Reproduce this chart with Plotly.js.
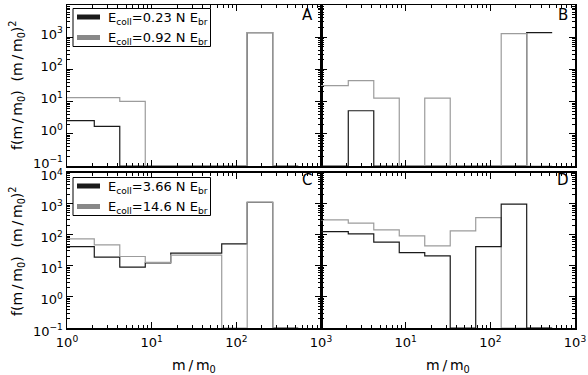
<!DOCTYPE html>
<html>
<head>
<meta charset="utf-8">
<script src="https://cdn.plot.ly/plotly-3.0.1.min.js"></script>
<style>html,body{margin:0;padding:0;background:#fff;}#chart{width:588px;height:375px;}</style>
</head>
<body>
<div id="chart"></div>
<script>
// Bin edges of the mass histogram (m/m0), factor-2 bins
const binEdges = [1, 2.1, 4.2, 8.4, 16.8, 33.6, 67.2, 134.4, 268.8, 537.6];

// Panel A
const panelA_black = [2.55, 1.71, 0, 0, 0, 0, 0, 1380, 0];
const panelA_gray  = [13.2, 13.2, 10.2, 0, 0, 0, 0, 1380, 0];
// Panel B
const panelB_black = [0, 5.2, 0, 0, 0, 0, 0, 0, 1380];
const panelB_gray  = [31.2, 44.6, 12.9, 0, 12.9, 0, 0, 1285, 0];
// Panel C
const panelC_black = [41.6, 19, 9.06, 12.4, 25.5, 25.5, 50.7, 1105, 0];
const panelC_gray  = [73.5, 47, 19.9, 12.8, 21.9, 21.9, 0, 1105, 0];
// Panel D
const panelD_black = [126, 106, 57.5, 26.7, 20.9, 0, 41.6, 955, 0];
const panelD_gray  = [299, 234, 143, 91, 43.7, 133, 355, 0, 0];

const legendTop = ["E<sub>coll</sub>=0.23 N E<sub>br</sub>", "E<sub>coll</sub>=0.92 N E<sub>br</sub>"];
const legendBottom = ["E<sub>coll</sub>=3.66 N E<sub>br</sub>", "E<sub>coll</sub>=14.6 N E<sub>br</sub>"];
const panelLabels = ["A", "B", "C", "D"];

const yTickVals = [0.1, 1, 10, 100, 1000, 10000];
const yTickText = ["10<sup>\u22121</sup>", "10<sup>0</sup>", "10<sup>1</sup>", "10<sup>2</sup>", "10<sup>3</sup>", "10<sup>4</sup>"];
const xTickValsLeft = [1, 10, 100];
const xTickTextLeft = ["10<sup>0</sup>", "10<sup>1</sup>", "10<sup>2</sup>"];
const xTickValsRight = [1, 10, 100, 1000];
const xTickTextRight = ["10<sup>3</sup>", "10<sup>1</sup>", "10<sup>2</sup>", "10<sup>3</sup>"];

const yTitle = "f(m\u2009/\u2009m<sub>0</sub>)  (m\u2009/\u2009m<sub>0</sub>)<sup>2</sup>";
const xTitle = "m\u2009/\u2009m<sub>0</sub>";

const FLOOR = 0.1; // empty bins drawn on the lower axis
const BLACK = "#1a1a1a", GRAY = "#9c9c9c";
const FONT = "DejaVu Sans, Arial, sans-serif";

function stepTrace(vals, color, xa, ya) {
  const y = vals.map(v => v > 0 ? v : FLOOR);
  y.push(y[y.length - 1]);
  return {
    x: binEdges, y: y, type: "scatter", mode: "lines",
    line: {shape: "hv", color: color, width: 1.2},
    xaxis: xa, yaxis: ya, showlegend: false, hoverinfo: "skip", cliponaxis: true
  };
}

const data = [
  stepTrace(panelA_black, BLACK, "x", "y"),
  stepTrace(panelA_gray, GRAY, "x", "y"),
  stepTrace(panelB_black, BLACK, "x2", "y2"),
  stepTrace(panelB_gray, GRAY, "x2", "y2"),
  stepTrace(panelC_black, BLACK, "x3", "y3"),
  stepTrace(panelC_gray, GRAY, "x3", "y3"),
  stepTrace(panelD_gray, GRAY, "x4", "y4"),
  stepTrace(panelD_black, BLACK, "x4", "y4")
];

const W = 588, H = 375, mL = 67, mR = 13, mT = 5, mB = 47;
const pw = W - mL - mR, ph = H - mT - mB;
const px = x => (x - mL) / pw;
const py = y => (H - mB - y) / ph;

const yTop = [py(166), 1];
const yBot = [0, py(172.5)];

function xaxis(domain, anchor, vals, text, showLabels) {
  return {
    type: "log", range: [0, 3], domain: domain, anchor: anchor,
    showline: true, linecolor: "black", linewidth: 1.5, mirror: "allticks",
    ticks: "inside", ticklen: 6, tickwidth: 1, tickcolor: "black",
    tickvals: vals, ticktext: text, showticklabels: showLabels,
    ticklabelstandoff: 2,
    tickfont: {family: FONT, size: 13, color: "black"},
    minor: {ticks: "inside", ticklen: 3, tickcolor: "black", tickwidth: 1, dtick: "D1", showgrid: false},
    showgrid: false, zeroline: false, fixedrange: true
  };
}
function yaxis(domain, anchor, showLabels, shift) {
  return {
    type: "log", range: [-1, 4], domain: domain, anchor: anchor,
    showline: true, linecolor: "black", linewidth: 1.5, mirror: "allticks",
    ticks: "inside", ticklen: 6, tickwidth: 1, tickcolor: "black",
    tickvals: yTickVals, ticktext: yTickText, showticklabels: showLabels,
    ticklabelshift: shift,
    tickfont: {family: FONT, size: 13, color: "black"},
    minor: {ticks: "inside", ticklen: 3, tickcolor: "black", tickwidth: 1, dtick: "D1", showgrid: false},
    showgrid: false, zeroline: false, fixedrange: true
  };
}

const shapes = [];
const annotations = [];

function addLegend(topY, labels) {
  shapes.push({type: "rect", xref: "paper", yref: "paper",
    x0: px(73), x1: px(210.5), y0: py(topY + 38), y1: py(topY),
    line: {color: "black", width: 1}, fillcolor: "white", layer: "above"});
  const rows = [topY + 8.5, topY + 29];
  const cols = [BLACK, "#888888"];
  rows.forEach((ry, i) => {
    shapes.push({type: "line", xref: "paper", yref: "paper",
      x0: px(77), x1: px(100), y0: py(ry), y1: py(ry),
      line: {color: cols[i], width: 5}, layer: "above"});
    annotations.push({xref: "paper", yref: "paper", x: px(106), y: py(ry + 1),
      xanchor: "left", yanchor: "middle", showarrow: false, text: labels[i],
      font: {family: FONT, size: 13, color: "black"}});
  });
}
addLegend(8.5, legendTop);
addLegend(177.5, legendBottom);

const labelPos = [[307, 15], [563, 15], [306.5, 180], [562.5, 180]];
panelLabels.forEach((t, i) => {
  annotations.push({xref: "paper", yref: "paper", x: px(labelPos[i][0]), y: py(labelPos[i][1]),
    xanchor: "center", yanchor: "middle", showarrow: false, text: t,
    font: {family: FONT, size: 15, color: "black"}});
});

// axis titles
[[194, 366], [448, 366]].forEach(p => {
  annotations.push({xref: "paper", yref: "paper", x: px(p[0]), y: py(p[1]),
    xanchor: "center", yanchor: "middle", showarrow: false, text: xTitle,
    font: {family: FONT, size: 14, color: "black"}});
});
[85, 251].forEach(yc => {
  annotations.push({xref: "paper", yref: "paper", x: px(17), y: py(yc),
    xanchor: "center", yanchor: "middle", showarrow: false, text: yTitle, textangle: -90,
    font: {family: FONT, size: 14, color: "black"}});
});

const layout = {
  width: W, height: H,
  margin: {l: mL, r: mR, t: mT, b: mB, pad: 0},
  paper_bgcolor: "white", plot_bgcolor: "white",
  font: {family: FONT, color: "black"},
  showlegend: false,
  xaxis: xaxis([0, 0.5], "y", xTickValsLeft, xTickTextLeft, false),
  yaxis: yaxis(yTop, "x", true, -3),
  xaxis2: xaxis([0.5, 1], "y2", xTickValsRight, xTickTextRight, false),
  yaxis2: yaxis(yTop, "x2", false, 0),
  xaxis3: xaxis([0, 0.5], "y3", xTickValsLeft, xTickTextLeft, true),
  yaxis3: yaxis(yBot, "x3", true, 3),
  xaxis4: xaxis([0.5, 1], "y4", xTickValsRight, xTickTextRight, true),
  yaxis4: yaxis(yBot, "x4", false, 0),
  shapes: shapes,
  annotations: annotations
};

Plotly.newPlot("chart", data, layout, {staticPlot: true, displayModeBar: false});
</script>
</body>
</html>
